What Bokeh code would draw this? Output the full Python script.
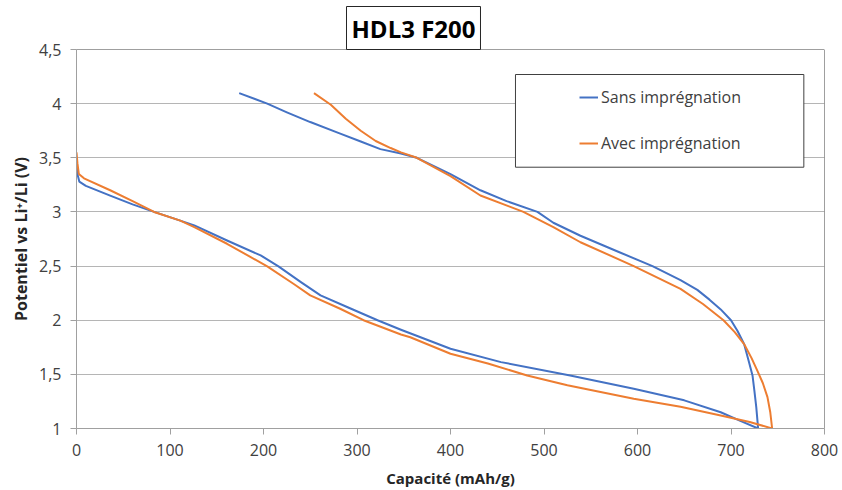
from bokeh.plotting import figure
from bokeh.models import (Range1d, FixedTicker, Legend, LegendItem,
                          BoxAnnotation, Span)
from bokeh.embed import file_html
from bokeh.resources import INLINE

# ---------------- data ----------------
title_text = "HDL3 F200"
x_title = "Capacité (mAh/g)"
y_title = "Potentiel vs Li⁺/Li (V)"
series_names = ["Sans imprégnation", "Avec imprégnation"]
series_colors = ["#4472C4", "#ED7D31"]

x_ticks = [0, 100, 200, 300, 400, 500, 600, 700, 800]
y_ticks = [1, 1.5, 2, 2.5, 3, 3.5, 4, 4.5]
y_tick_labels = ["1", "1,5", "2", "2,5", "3", "3,5", "4", "4,5"]

# Sans imprégnation : discharge then charge
cap_sans = [0, 1, 3, 10, 36, 60, 83, 111, 126, 161, 197, 216, 240, 261, 290,
            322, 347, 400, 454, 528, 596, 650, 689, 710, 729,
            728, 727, 725, 723, 719, 714, 707, 700, 689, 677, 664, 646, 616,
            580, 539, 510, 493, 460, 432, 400, 364, 347, 325, 304, 280, 250,
            225, 204, 174]
volt_sans = [3.45, 3.35, 3.28, 3.24, 3.15, 3.07, 3.0, 2.92, 2.875, 2.736,
             2.598, 2.497, 2.352, 2.23, 2.12, 2.0, 1.912, 1.736, 1.613, 1.49,
             1.367, 1.26, 1.15, 1.07, 1.0,
             1.1, 1.2, 1.35, 1.49, 1.62, 1.78, 1.9, 2.0, 2.10, 2.19, 2.28,
             2.37, 2.5, 2.63, 2.78, 2.9, 3.0, 3.1, 3.2, 3.35, 3.5, 3.54, 3.58,
             3.65, 3.73, 3.83, 3.92, 4.0, 4.097]

# Avec imprégnation : discharge then charge
cap_avec = [0, 1, 2.5, 8, 36, 60, 83, 111, 126, 161, 204, 232, 250, 282, 307,
            347, 357, 400, 440, 482, 525, 596, 646, 689, 720, 744,
            742, 739, 734, 728, 722, 714, 704, 692, 670, 646, 596, 539, 510,
            478, 432, 400, 364, 347, 336, 320, 304, 288, 272, 254]
volt_avec = [3.55, 3.45, 3.35, 3.31, 3.2, 3.1, 3.0, 2.92, 2.86, 2.706, 2.497,
             2.337, 2.23, 2.106, 2.0, 1.868, 1.843, 1.69, 1.6, 1.49, 1.40,
             1.275, 1.2, 1.12, 1.06, 1.0,
             1.15, 1.29, 1.42, 1.536, 1.65, 1.78, 1.89, 2.0, 2.15, 2.29, 2.5,
             2.72, 2.86, 3.0, 3.152, 3.33, 3.5, 3.55, 3.59, 3.655, 3.75, 3.86,
             3.99, 4.097]

# ---------------- figure ----------------
FONT = "Open Sans"
TEXT_COL = "#404040"
GRID_COL = "#b5b5b5"
AXIS_COL = "#a0a0a0"

p = figure(width=842, height=490, x_range=Range1d(0, 800), y_range=Range1d(1, 4.5),
           output_backend="svg", toolbar_location=None,
           min_border_left=76, min_border_right=18, min_border_top=49,
           min_border_bottom=62)
p.outline_line_color = None
p.background_fill_color = "white"
p.border_fill_color = "white"

# boxed title
p.title.text = title_text
p.title.text_font = FONT
p.title.text_font_style = "bold"
p.title.text_font_size = "24px"
p.title.text_color = "black"
p.title.align = "left"
p.title.offset = 270
p.title.standoff = 0
p.title.border_line_color = "#262626"
p.title.border_line_width = 1
p.title.background_fill_color = "white"
p.title.padding = 5

p.xgrid.visible = False
p.ygrid.ticker = FixedTicker(ticks=y_ticks)
p.ygrid.grid_line_color = GRID_COL
p.ygrid.grid_line_width = 1

p.xaxis.ticker = FixedTicker(ticks=x_ticks)
p.yaxis.ticker = FixedTicker(ticks=y_ticks)
p.yaxis.major_label_overrides = {t: l for t, l in zip(y_ticks, y_tick_labels)}
for ax in (p.xaxis, p.yaxis):
    ax.axis_line_color = AXIS_COL
    ax.major_tick_line_color = AXIS_COL
    ax.major_tick_out = 6
    ax.major_tick_in = 0
    ax.minor_tick_line_color = None
    ax.major_label_text_font = FONT
    ax.major_label_text_font_size = "16px"
    ax.major_label_text_color = TEXT_COL
    ax.axis_label_text_font = FONT
    ax.axis_label_text_font_style = "bold"
    ax.axis_label_text_color = "#262626"
p.xaxis.axis_label_text_font_size = "15px"
p.yaxis.axis_label_text_font_size = "16px"
p.xaxis.major_label_standoff = 9
p.yaxis.major_label_standoff = 9
p.xaxis.axis_label = x_title
p.yaxis.axis_label = y_title
p.xaxis.axis_label_standoff = 9
p.yaxis.axis_label_standoff = 4

# frame border on top and right
p.add_layout(Span(location=4.5, dimension="width", line_color="#404040", line_width=1))
p.add_layout(Span(location=800, dimension="height", line_color="#404040", line_width=1))

r1 = p.line(cap_sans, volt_sans, line_color=series_colors[0], line_width=2,
            line_join="round")
r2 = p.line(cap_avec, volt_avec, line_color=series_colors[1], line_width=2,
            line_join="round")

# legend box
p.add_layout(BoxAnnotation(left=469.5, right=777.9, top=4.269, bottom=3.413,
                           fill_color="white", fill_alpha=1.0,
                           line_color="#404040", line_width=1, line_alpha=1.0))
legend = Legend(items=[LegendItem(label=series_names[0], renderers=[r1]),
                       LegendItem(label=series_names[1], renderers=[r2])],
                location=(503, 273), padding=0, margin=0, spacing=22,
                glyph_width=19, glyph_height=24, label_height=24,
                label_standoff=3, label_text_font=FONT,
                label_text_font_size="16px", label_text_color=TEXT_COL,
                border_line_alpha=0, background_fill_alpha=0)
p.add_layout(legend)

open("out.html", "w").write(file_html(p, INLINE))
